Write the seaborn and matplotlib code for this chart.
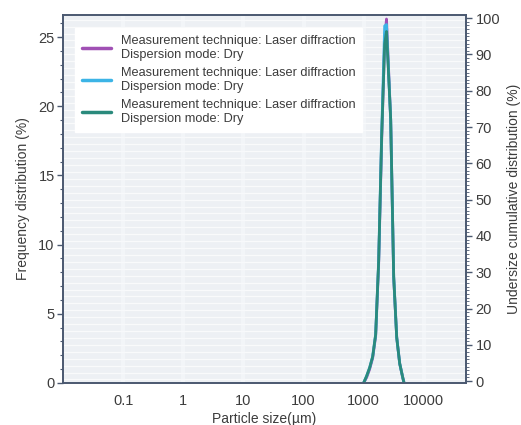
import matplotlib
matplotlib.use("Agg")
import matplotlib.pyplot as plt
import matplotlib.ticker as mticker
import numpy as np
import pandas as pd
import seaborn as sns
from matplotlib.lines import Line2D

# ---- data ----
sizes_um = [1000, 1122, 1259, 1413, 1585, 1778, 1995, 2239, 2400, 2818, 3162, 3548, 3981, 4467, 4700]
freq_purple = [0, 0.4, 1.0, 1.8, 3.4, 8.6, 17.5, 24.8, 26.3, 19.0, 7.6, 3.3, 1.4, 0.4, 0]
freq_blue = [0, 0.5, 1.1, 1.9, 3.5, 8.8, 18.0, 25.8, 25.9, 19.0, 7.7, 3.3, 1.4, 0.4, 0]
freq_green = [0, 0.5, 1.1, 1.9, 3.5, 8.8, 17.8, 24.5, 25.4, 19.1, 7.7, 3.3, 1.4, 0.4, 0]
series_labels = ["Measurement technique: Laser diffraction\nDispersion mode: Dry",
                 "Measurement technique: Laser diffraction\nDispersion mode: Dry ",
                 "Measurement technique: Laser diffraction\nDispersion mode: Dry  "]
series_colors = ["#a050b4", "#3cb4e6", "#2a8a7c"]
x_ticks = [0.1, 1, 10, 100, 1000, 10000]
x_tick_labels = ["0.1", "1", "10", "100", "1000", "10000"]
left_ticks = [0, 5, 10, 15, 20, 25]
right_ticks = [0, 10, 20, 30, 40, 50, 60, 70, 80, 90, 100]

rows = []
for lab, vals in zip(series_labels, [freq_purple, freq_blue, freq_green]):
    for s, v in zip(sizes_um, vals):
        rows.append({"size": s, "freq": v, "series": lab})
df = pd.DataFrame(rows)

sns.set_theme(style="white")
plt.rcParams['font.family'] = ['Liberation Sans', 'DejaVu Sans']

fig = plt.figure(figsize=(5.21, 4.25), dpi=100)
ax = fig.add_axes([0.121, 0.099, 0.773, 0.866])
ax.set_facecolor("#edf0f4")

ax.set_xscale("log")
ax.set_xlim(0.01, 50000)
ax.set_ylim(0, 26.6)
# faint background texture
for yv in np.arange(0.25, 26.6, 0.5):
    ax.axhline(yv, color="white", lw=0.9, alpha=0.7, zorder=0)
for xv in x_ticks:
    ax.axvline(xv, color="#f7f9fb", lw=3, alpha=0.6, zorder=0)

sns.lineplot(data=df, x="size", y="freq", hue="series", palette=series_colors,
             hue_order=series_labels, lw=2, ax=ax, legend=False, zorder=3, sort=False)

spine_col = "#4a5870"
txt_col = "#3c3c3c"
for sp in ax.spines.values():
    sp.set_color(spine_col)
    sp.set_linewidth(1.2)

ax.xaxis.set_major_locator(mticker.FixedLocator(x_ticks))
ax.xaxis.set_major_formatter(mticker.FixedFormatter(x_tick_labels))
ax.xaxis.set_minor_locator(mticker.LogLocator(base=10, subs=np.arange(2, 10)))
ax.xaxis.set_minor_formatter(mticker.NullFormatter())
ax.set_yticks(left_ticks)
ax.yaxis.set_minor_locator(mticker.MultipleLocator(1))
ax.tick_params(axis="both", which="major", direction="out", length=4, width=1,
               color=spine_col, labelsize=10.5, labelcolor=txt_col, pad=2)
ax.tick_params(axis="both", which="minor", direction="out", length=2.5, width=0.8,
               color=spine_col)
ax.tick_params(axis="x", which="major", pad=4)
ax.set_xlabel("Particle size(µm)", fontsize=10, color=txt_col, labelpad=3)
ax.set_ylabel("Frequency distribution (%)", fontsize=10, color=txt_col, labelpad=6)

ax2 = ax.twinx()
ax2.set_ylim(-0.5, 100.9)
ax2.set_yticks(right_ticks)
ax2.yaxis.set_minor_locator(mticker.MultipleLocator(1))
ax2.tick_params(axis="y", which="major", direction="out", length=4, width=1,
                color=spine_col, labelsize=10.5, labelcolor=txt_col, pad=3)
ax2.tick_params(axis="y", which="minor", direction="out", length=2.5, width=0.6,
                color=spine_col)
for sp in ax2.spines.values():
    sp.set_color(spine_col)
    sp.set_linewidth(1.2)
ax2.set_ylabel("Undersize cumulative distribution (%)", fontsize=10, color=txt_col, labelpad=5)
ax2.grid(False)

handles = [Line2D([0], [0], color=c, lw=2.5) for c in series_colors]
leg = ax.legend(handles, series_labels, loc="upper left", bbox_to_anchor=(0.03, 0.963),
                fontsize=9.2, frameon=True, fancybox=False, framealpha=1,
                edgecolor="white", facecolor="white", handlelength=2.3,
                labelspacing=0.45, borderpad=0.5, handletextpad=0.8, borderaxespad=0)
for t in leg.get_texts():
    t.set_color(txt_col)
    t.set_linespacing(1.25)
leg.set_zorder(5)

fig.savefig("out.png", dpi=100)
